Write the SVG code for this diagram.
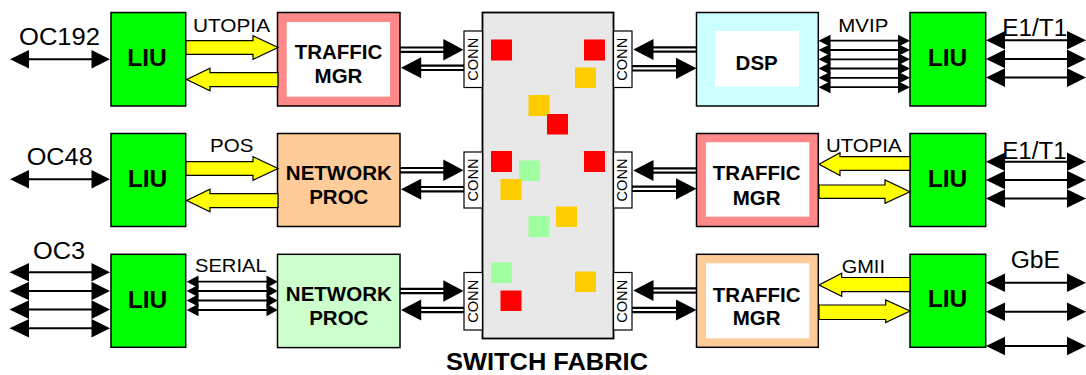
<svg xmlns="http://www.w3.org/2000/svg" width="1086" height="375" viewBox="0 0 1086 375">
<style>
.box{stroke:#000;stroke-width:1.5}
.liu{fill:#00FF00}
.pink{fill:#FF8888}
.peach{fill:#FFCC99}
.lgreen{fill:#CCFFCC}
.cyan{fill:#CCFFFF}
.inner{fill:#fff;stroke:none}
.bt{font-family:"Liberation Sans",Arial,sans-serif;font-weight:bold;fill:#000;text-anchor:middle}
.lt{font-family:"Liberation Sans",Arial,sans-serif;fill:#000;text-anchor:middle;font-size:19px}
.big{font-size:23.5px}
.conn{fill:#fff;stroke:#000;stroke-width:1.2}
.ct{font-family:"Liberation Sans",Arial,sans-serif;font-size:14.5px;fill:#000;text-anchor:middle}
.fat{fill:#FFFF00;stroke:#000;stroke-width:1.2;stroke-linejoin:miter}
.dbo{stroke:#000;stroke-width:6.5;fill:none}
.dbi{stroke:#fff;stroke-width:2.2;fill:none}
.ln{stroke:#000;stroke-width:2;fill:none}
.thin{stroke:#000;stroke-width:1.8;fill:none}
.hd{fill:#000}
</style>

<!-- Switch fabric -->
<g id="switch-fabric">
<rect x="482.5" y="12.5" width="131" height="326" fill="#E8E8E8" stroke="#000" stroke-width="1.8"/>
<rect x="491" y="39.5" width="21" height="21" fill="#FF0000"/>
<rect x="584" y="39.5" width="21" height="21" fill="#FF0000"/>
<rect x="575" y="67.5" width="21" height="20.5" fill="#FFCC00"/>
<rect x="528.5" y="95" width="21" height="21" fill="#FFCC00"/>
<rect x="547" y="114" width="21" height="20.5" fill="#FF0000"/>
<rect x="491" y="151" width="21" height="21" fill="#FF0000"/>
<rect x="584" y="151" width="21" height="21" fill="#FF0000"/>
<rect x="519" y="160.5" width="21" height="20.5" fill="#A0FFA0"/>
<rect x="500.5" y="179" width="21" height="21" fill="#FFCC00"/>
<rect x="556" y="206.5" width="21" height="20.5" fill="#FFCC00"/>
<rect x="528.5" y="216" width="21" height="21" fill="#A0FFA0"/>
<rect x="491" y="262.5" width="21" height="20.5" fill="#A0FFA0"/>
<rect x="575" y="271.5" width="21" height="20.5" fill="#FFCC00"/>
<rect x="500.5" y="290.5" width="21" height="20.5" fill="#FF0000"/>
<text class="bt" x="547" y="370" font-size="23" textLength="202" lengthAdjust="spacingAndGlyphs">SWITCH FABRIC</text>
</g>

<!-- CONN boxes -->
<g id="conn-l1"><rect class="conn" x="464" y="31" width="18.5" height="56.5"/><text class="ct" transform="translate(477.5,59.3) rotate(-90)" textLength="43" lengthAdjust="spacingAndGlyphs">CONN</text></g>
<g id="conn-l2"><rect class="conn" x="464" y="152" width="18.5" height="56"/><text class="ct" transform="translate(477.5,180) rotate(-90)" textLength="43" lengthAdjust="spacingAndGlyphs">CONN</text></g>
<g id="conn-l3"><rect class="conn" x="464" y="272.5" width="18.5" height="57.5"/><text class="ct" transform="translate(477.5,301.3) rotate(-90)" textLength="43" lengthAdjust="spacingAndGlyphs">CONN</text></g>
<g id="conn-r1"><rect class="conn" x="613.5" y="31" width="18.5" height="56.5"/><text class="ct" transform="translate(627,59.3) rotate(-90)" textLength="43" lengthAdjust="spacingAndGlyphs">CONN</text></g>
<g id="conn-r2"><rect class="conn" x="613.5" y="152" width="18.5" height="56"/><text class="ct" transform="translate(627,180) rotate(-90)" textLength="43" lengthAdjust="spacingAndGlyphs">CONN</text></g>
<g id="conn-r3"><rect class="conn" x="613.5" y="272.5" width="18.5" height="57.5"/><text class="ct" transform="translate(627,301.3) rotate(-90)" textLength="43" lengthAdjust="spacingAndGlyphs">CONN</text></g>

<!-- Left LIUs -->
<g id="liu-l1"><rect class="box liu" x="111" y="12.5" width="74.7" height="93.5"/><text class="bt" x="147" y="66" font-size="24.5">LIU</text></g>
<g id="liu-l2"><rect class="box liu" x="111" y="133.5" width="74.7" height="93"/><text class="bt" x="147.5" y="186.7" font-size="24.5">LIU</text></g>
<g id="liu-l3"><rect class="box liu" x="111" y="254.3" width="74.7" height="93"/><text class="bt" x="147.5" y="307.7" font-size="24.5">LIU</text></g>

<!-- Left processors -->
<g id="tm-l1"><rect class="box pink" x="277.5" y="12.5" width="122.5" height="93.5"/><rect class="inner" x="286.7" y="22" width="103.3" height="74.7"/><text class="bt" x="338.5" y="59" font-size="20.5">TRAFFIC</text><text class="bt" x="338.5" y="83" font-size="20.5">MGR</text></g>
<g id="np-l2"><rect class="box peach" x="277.5" y="133.5" width="122.5" height="93"/><text class="bt" x="338.8" y="180" font-size="20.5">NETWORK</text><text class="bt" x="338.8" y="204" font-size="20.5">PROC</text></g>
<g id="np-l3"><rect class="box lgreen" x="277.5" y="254.3" width="122.5" height="93.3"/><text class="bt" x="338.8" y="300.7" font-size="20.5">NETWORK</text><text class="bt" x="338.8" y="325" font-size="20.5">PROC</text></g>

<!-- Right processors -->
<g id="dsp-r1"><rect class="box cyan" x="696.5" y="12.5" width="121.8" height="93.5"/><rect class="inner" x="715" y="31" width="84" height="55.7"/><text class="bt" x="756.7" y="70" font-size="20.5">DSP</text></g>
<g id="tm-r2"><rect class="box pink" x="696.5" y="133.5" width="121.8" height="93"/><rect class="inner" x="706" y="142.3" width="103.3" height="74.4"/><text class="bt" x="756.7" y="180" font-size="20.5">TRAFFIC</text><text class="bt" x="756.7" y="205" font-size="20.5">MGR</text></g>
<g id="tm-r3"><rect class="box peach" x="696.5" y="254.3" width="121.8" height="93"/><rect class="inner" x="706" y="263.3" width="103.3" height="75"/><text class="bt" x="756.7" y="301.7" font-size="20.5">TRAFFIC</text><text class="bt" x="756.7" y="325" font-size="20.5">MGR</text></g>

<!-- Right LIUs -->
<g id="liu-r1"><rect class="box liu" x="910" y="12.5" width="75.7" height="93.5"/><text class="bt" x="947.5" y="66" font-size="24.5">LIU</text></g>
<g id="liu-r2"><rect class="box liu" x="910" y="133.5" width="75.7" height="93"/><text class="bt" x="947.5" y="186.7" font-size="24.5">LIU</text></g>
<g id="liu-r3"><rect class="box liu" x="910" y="254.3" width="75.7" height="93"/><text class="bt" x="947.5" y="306.7" font-size="24.5">LIU</text></g>

<!-- Connectors -->
<g id="connectors">
<!-- OC192 -->
<line class="ln" x1="28" y1="59.3" x2="93" y2="59.3"/>
<polygon class="hd" points="10,59.3 29,50 29,68.6"/>
<polygon class="hd" points="110,59.3 91.5,50 91.5,68.6"/>
<!-- OC48 -->
<line class="ln" x1="28" y1="179.3" x2="93" y2="179.3"/>
<polygon class="hd" points="10,179.3 29,170 29,188.6"/>
<polygon class="hd" points="110,179.3 91.5,170 91.5,188.6"/>
<!-- OC3 -->
<g>
<line class="ln" x1="28" y1="272.3" x2="93" y2="272.3"/>
<line class="ln" x1="28" y1="291" x2="93" y2="291"/>
<line class="ln" x1="28" y1="309.6" x2="93" y2="309.6"/>
<line class="ln" x1="28" y1="328.3" x2="93" y2="328.3"/>
<polygon class="hd" points="9.5,272.3 29,263 29,281.6"/>
<polygon class="hd" points="9.5,291 29,281.7 29,300.3"/>
<polygon class="hd" points="9.5,309.6 29,300.3 29,318.9"/>
<polygon class="hd" points="9.5,328.3 29,319 29,337.6"/>
<polygon class="hd" points="110,272.3 91.5,263 91.5,281.6"/>
<polygon class="hd" points="110,291 91.5,281.7 91.5,300.3"/>
<polygon class="hd" points="110,309.6 91.5,300.3 91.5,318.9"/>
<polygon class="hd" points="110,328.3 91.5,319 91.5,337.6"/>
</g>
<!-- SERIAL -->
<g>
<line class="thin" x1="197" y1="281.7" x2="268" y2="281.7"/>
<line class="thin" x1="197" y1="291" x2="268" y2="291"/>
<line class="thin" x1="197" y1="300.5" x2="268" y2="300.5"/>
<line class="thin" x1="197" y1="310" x2="268" y2="310"/>
<polygon class="hd" points="186.7,281.7 198.5,275.5 198.5,287.9"/>
<polygon class="hd" points="186.7,291 198.5,284.8 198.5,297.2"/>
<polygon class="hd" points="186.7,300.5 198.5,294.3 198.5,306.7"/>
<polygon class="hd" points="186.7,310 198.5,303.8 198.5,316.2"/>
<polygon class="hd" points="277.7,281.7 266.5,275.5 266.5,287.9"/>
<polygon class="hd" points="277.7,291 266.5,284.8 266.5,297.2"/>
<polygon class="hd" points="277.7,300.5 266.5,294.3 266.5,306.7"/>
<polygon class="hd" points="277.7,310 266.5,303.8 266.5,316.2"/>
</g>
<!-- Yellow fat arrows left side -->
<polygon class="fat" points="186,40.7 253,40.7 253,35.7 278,47.5 253,59.3 253,54.3 186,54.3"/>
<polygon class="fat" points="278,72.7 210,72.7 210,68.3 186.7,79.5 210,90.7 210,86.7 278,86.7"/>
<polygon class="fat" points="186,161.7 253,161.7 253,156.7 278,168.5 253,180.3 253,175.3 186,175.3"/>
<polygon class="fat" points="278,193.7 210,193.7 210,189.3 186.7,200.5 210,211.7 210,207.7 278,207.7"/>
<!-- Yellow fat arrows right side -->
<polygon class="fat" points="910,156.7 840,156.7 840,152.7 819,164.3 840,175.5 840,170.3 910,170.3"/>
<polygon class="fat" points="819,185 885,185 885,180 910,191.7 885,203.3 885,198.3 819,198.3"/>
<polygon class="fat" points="910,277.5 841.7,277.5 841.7,273.3 819,285 841.7,296.3 841.7,291.7 910,291.7"/>
<polygon class="fat" points="819,305 885.7,305 885.7,300 910,311 885.7,322.5 885.7,319.5 819,319.5"/>
<!-- Double connectors left -->
<g>
<line class="dbo" x1="400" y1="49.7" x2="445" y2="49.7"/><line class="dbi" x1="400.8" y1="49.7" x2="445" y2="49.7"/>
<polygon class="hd" points="463.5,49.7 443.3,39 443.3,60.5"/>
<line class="dbo" x1="419" y1="67.8" x2="464" y2="67.8"/><line class="dbi" x1="419" y1="67.8" x2="463.3" y2="67.8"/>
<polygon class="hd" points="401,67.8 421.2,57.3 421.2,78.3"/>
<line class="dbo" x1="400" y1="170.2" x2="445" y2="170.2"/><line class="dbi" x1="400.8" y1="170.2" x2="445" y2="170.2"/>
<polygon class="hd" points="463.5,170.2 443.3,159.5 443.3,181"/>
<line class="dbo" x1="419" y1="189.2" x2="464" y2="189.2"/><line class="dbi" x1="419" y1="189.2" x2="463.3" y2="189.2"/>
<polygon class="hd" points="401,189.2 421.2,178.7 421.2,199.7"/>
<line class="dbo" x1="400" y1="291" x2="445" y2="291"/><line class="dbi" x1="400.8" y1="291" x2="445" y2="291"/>
<polygon class="hd" points="463.5,291 443.3,280.3 443.3,301.8"/>
<line class="dbo" x1="419" y1="310" x2="464" y2="310"/><line class="dbi" x1="419" y1="310" x2="463.3" y2="310"/>
<polygon class="hd" points="401,310 421.2,299.5 421.2,320.5"/>
</g>
<!-- Double connectors right -->
<g>
<line class="dbo" x1="651" y1="49.5" x2="696.5" y2="49.5"/><line class="dbi" x1="651" y1="49.5" x2="695.7" y2="49.5"/>
<polygon class="hd" points="633.3,49.5 653.5,39 653.5,60"/>
<line class="dbo" x1="632" y1="68.3" x2="678" y2="68.3"/><line class="dbi" x1="632.8" y1="68.3" x2="678" y2="68.3"/>
<polygon class="hd" points="696.5,68.3 676,57.7 676,78.9"/>
<line class="dbo" x1="651" y1="170.5" x2="696.5" y2="170.5"/><line class="dbi" x1="651" y1="170.5" x2="695.7" y2="170.5"/>
<polygon class="hd" points="633.3,170.5 653.5,160 653.5,181"/>
<line class="dbo" x1="632" y1="188.8" x2="678" y2="188.8"/><line class="dbi" x1="632.8" y1="188.8" x2="678" y2="188.8"/>
<polygon class="hd" points="696.5,188.8 676,178.2 676,199.4"/>
<line class="dbo" x1="651" y1="290.5" x2="696.5" y2="290.5"/><line class="dbi" x1="651" y1="290.5" x2="695.7" y2="290.5"/>
<polygon class="hd" points="633.3,290.5 653.5,280 653.5,301"/>
<line class="dbo" x1="632" y1="310" x2="678" y2="310"/><line class="dbi" x1="632.8" y1="310" x2="678" y2="310"/>
<polygon class="hd" points="696.5,310 676,299.4 676,320.6"/>
</g>
<!-- MVIP -->
<g>
<line class="thin" x1="828" y1="40.7" x2="900" y2="40.7"/>
<line class="thin" x1="828" y1="50" x2="900" y2="50"/>
<line class="thin" x1="828" y1="59.3" x2="900" y2="59.3"/>
<line class="thin" x1="828" y1="68.5" x2="900" y2="68.5"/>
<line class="thin" x1="828" y1="77.8" x2="900" y2="77.8"/>
<line class="thin" x1="828" y1="87.2" x2="900" y2="87.2"/>
<polygon class="hd" points="818.5,40.7 830.5,34.7 830.5,46.7"/>
<polygon class="hd" points="818.5,50 830.5,44 830.5,56"/>
<polygon class="hd" points="818.5,59.3 830.5,53.3 830.5,65.3"/>
<polygon class="hd" points="818.5,68.5 830.5,62.5 830.5,74.5"/>
<polygon class="hd" points="818.5,77.8 830.5,71.8 830.5,83.8"/>
<polygon class="hd" points="818.5,87.2 830.5,81.2 830.5,93.2"/>
<polygon class="hd" points="910,40.7 898,34.7 898,46.7"/>
<polygon class="hd" points="910,50 898,44 898,56"/>
<polygon class="hd" points="910,59.3 898,53.3 898,65.3"/>
<polygon class="hd" points="910,68.5 898,62.5 898,74.5"/>
<polygon class="hd" points="910,77.8 898,71.8 898,83.8"/>
<polygon class="hd" points="910,87.2 898,81.2 898,93.2"/>
</g>
<!-- E1/T1 row 1 -->
<g>
<line class="ln" x1="1003" y1="40.3" x2="1069" y2="40.3"/>
<line class="ln" x1="1003" y1="58.9" x2="1069" y2="58.9"/>
<line class="ln" x1="1003" y1="77.6" x2="1069" y2="77.6"/>
<polygon class="hd" points="986,40.3 1005,31 1005,49.6"/>
<polygon class="hd" points="986,58.9 1005,49.6 1005,68.2"/>
<polygon class="hd" points="986,77.6 1005,68.3 1005,86.9"/>
<polygon class="hd" points="1086,40.3 1067,31 1067,49.6"/>
<polygon class="hd" points="1086,58.9 1067,49.6 1067,68.2"/>
<polygon class="hd" points="1086,77.6 1067,68.3 1067,86.9"/>
</g>
<!-- E1/T1 row 2 -->
<g>
<line class="ln" x1="1003" y1="161.7" x2="1069" y2="161.7"/>
<line class="ln" x1="1003" y1="180" x2="1069" y2="180"/>
<line class="ln" x1="1003" y1="198.5" x2="1069" y2="198.5"/>
<polygon class="hd" points="986,161.7 1005,152.4 1005,171"/>
<polygon class="hd" points="986,180 1005,170.7 1005,189.3"/>
<polygon class="hd" points="986,198.5 1005,189.2 1005,207.8"/>
<polygon class="hd" points="1086,161.7 1067,152.4 1067,171"/>
<polygon class="hd" points="1086,180 1067,170.7 1067,189.3"/>
<polygon class="hd" points="1086,198.5 1067,189.2 1067,207.8"/>
</g>
<!-- GbE -->
<g>
<line class="ln" x1="1003" y1="282.7" x2="1069" y2="282.7"/>
<line class="ln" x1="1003" y1="311.7" x2="1069" y2="311.7"/>
<line class="ln" x1="1003" y1="346" x2="1069" y2="346"/>
<polygon class="hd" points="986,282.7 1005,273.4 1005,292"/>
<polygon class="hd" points="986,311.7 1005,302.4 1005,321"/>
<polygon class="hd" points="986,346 1005,336.7 1005,355.3"/>
<polygon class="hd" points="1086,282.7 1067,273.4 1067,292"/>
<polygon class="hd" points="1086,311.7 1067,302.4 1067,321"/>
<polygon class="hd" points="1086,346 1067,336.7 1067,355.3"/>
</g>
</g>

<!-- Labels -->
<g id="labels">
<text class="lt big" x="59.5" y="45" textLength="81" lengthAdjust="spacingAndGlyphs">OC192</text>
<text class="lt big" x="59.7" y="165" textLength="66" lengthAdjust="spacingAndGlyphs">OC48</text>
<text class="lt big" x="59" y="259" textLength="52" lengthAdjust="spacingAndGlyphs">OC3</text>
<text class="lt" x="231.5" y="31.7" textLength="77" lengthAdjust="spacingAndGlyphs">UTOPIA</text>
<text class="lt" x="231.7" y="151.7" textLength="43.3" lengthAdjust="spacingAndGlyphs">POS</text>
<text class="lt" x="230.8" y="272.3" textLength="71.7" lengthAdjust="spacingAndGlyphs">SERIAL</text>
<text class="lt" x="863.3" y="31.7" textLength="50" lengthAdjust="spacingAndGlyphs">MVIP</text>
<text class="lt" x="863.8" y="152.3" textLength="75.7" lengthAdjust="spacingAndGlyphs">UTOPIA</text>
<text class="lt" x="863.3" y="273.3" textLength="43.3" lengthAdjust="spacingAndGlyphs">GMII</text>
<text class="lt big" x="1034.7" y="35.5" textLength="65" lengthAdjust="spacingAndGlyphs">E1/T1</text>
<text class="lt big" x="1034.5" y="158.5" textLength="64.5" lengthAdjust="spacingAndGlyphs">E1/T1</text>
<text class="lt big" x="1035.3" y="268.3" textLength="49.3" lengthAdjust="spacingAndGlyphs">GbE</text>
</g>
</svg>
